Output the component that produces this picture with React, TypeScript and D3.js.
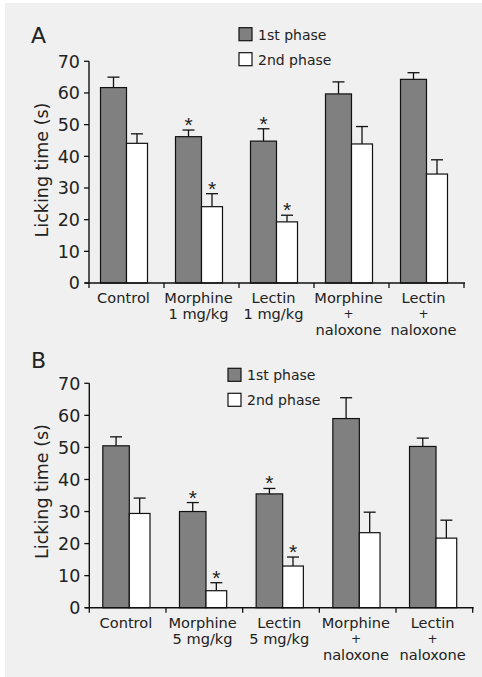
import React from "react";
import * as d3 from "d3";

const seriesNames = ["1st phase", "2nd phase"];
const yTicks = [0, 10, 20, 30, 40, 50, 60, 70];

const categoriesA = [["Control"], ["Morphine", "1 mg/kg"], ["Lectin", "1 mg/kg"], ["Morphine", "+", "naloxone"], ["Lectin", "+", "naloxone"]];
const phase1A = [61.7, 46.2, 44.8, 59.7, 64.3];
const phase1ErrA = [3.3, 2.1, 3.9, 3.8, 2.1];
const phase2A = [44.1, 24.1, 19.3, 43.9, 34.4];
const phase2ErrA = [3.0, 4.1, 2.1, 5.5, 4.5];
const sig1A = [false, true, true, false, false];
const sig2A = [false, true, true, false, false];

const categoriesB = [["Control"], ["Morphine", "5 mg/kg"], ["Lectin", "5 mg/kg"], ["Morphine", "+", "naloxone"], ["Lectin", "+", "naloxone"]];
const phase1B = [50.5, 30.0, 35.5, 59.0, 50.3];
const phase1ErrB = [2.8, 2.8, 1.7, 6.5, 2.6];
const phase2B = [29.4, 5.3, 13.0, 23.4, 21.7];
const phase2ErrB = [4.8, 2.5, 2.8, 6.4, 5.6];
const sig1B = [false, true, true, false, false];
const sig2B = [false, true, true, false, false];

const FONT = "'DejaVu Sans', Verdana, sans-serif";
const TXT = "#222";

type PanelProps = {
  letter: string;
  cats: string[][];
  p1: number[]; e1: number[]; p2: number[]; e2: number[];
  s1: boolean[]; s2: boolean[];
  x0: number; x1: number; yBottom: number; yTop: number;
  offset: number; w1: number; w2: number;
  letterY: number; legendX: number; legendY: number;
  labelY: number[]; plusY: number; ylabelY: number;
};

function Panel(p: PanelProps) {
  const x = d3.scaleBand<number>().domain(d3.range(p.cats.length)).range([p.x0, p.x1]).padding(0);
  const y = d3.scaleLinear().domain([0, 70]).range([p.yBottom, p.yTop]);
  const bounds = d3.range(p.cats.length + 1).map((i) => (i < p.cats.length ? (x(i) as number) : p.x1));
  const bars: React.ReactNode[] = [];
  p.cats.forEach((_, i) => {
    const bx = (x(i) as number) + p.offset;
    const defs = [
      { v: p.p1[i], e: p.e1[i], s: p.s1[i], fill: "#808080", xs: bx, w: p.w1 },
      { v: p.p2[i], e: p.e2[i], s: p.s2[i], fill: "#ffffff", xs: bx + p.w1, w: p.w2 },
    ];
    defs.forEach((d, j) => {
      const cx = d.xs + d.w / 2;
      const top = y(d.v + d.e);
      bars.push(
        <g key={`b${i}-${j}`}>
          <line x1={cx} x2={cx} y1={y(d.v)} y2={top} stroke="#111" strokeWidth={1.3} />
          <line x1={cx - 6} x2={cx + 6} y1={top} y2={top} stroke="#111" strokeWidth={1.3} />
          <rect x={d.xs} y={y(d.v)} width={d.w} height={y(0) - y(d.v)} fill={d.fill} stroke="#111" strokeWidth={1.2} />
          {d.s && (
            <text x={cx} y={top + 2} textAnchor="middle" fontSize={21} fontFamily="'Liberation Sans', Arial, sans-serif" fill={TXT}>*</text>
          )}
        </g>
      );
    });
  });
  const lg = seriesNames.map((n, k) => (
    <g key={n}>
      <rect x={p.legendX} y={p.legendY + k * 25} width={13} height={13} fill={k === 0 ? "#808080" : "#ffffff"} stroke="#111" strokeWidth={1.2} />
      <text x={p.legendX + 19} y={p.legendY + k * 25 + 12} fontSize={14} fontFamily={FONT} fill={TXT}>{n}</text>
    </g>
  ));
  return (
    <g>
      <text x={31} y={p.letterY} fontSize={22} fontFamily={FONT} fill={TXT}>{p.letter}</text>
      {lg}
      <text transform={`translate(48,${p.ylabelY}) rotate(-90)`} textAnchor="middle" fontSize={17.5} fontFamily={FONT} fill={TXT}>Licking time (s)</text>
      {bars}
      <line x1={p.x0} x2={p.x0} y1={y(0)} y2={y(70)} stroke="#111" strokeWidth={1.4} />
      {yTicks.map((t) => (
        <g key={t}>
          <line x1={p.x0 - 5} x2={p.x0} y1={y(t)} y2={y(t)} stroke="#111" strokeWidth={1.3} />
          <text x={p.x0 - 9} y={y(t) + 6.3} textAnchor="end" fontSize={17.5} fontFamily={FONT} fill={TXT}>{t}</text>
        </g>
      ))}
      <line x1={p.x0 - 4} x2={p.x1 + 1} y1={y(0)} y2={y(0)} stroke="#111" strokeWidth={1.5} />
      {bounds.map((b, i) => (
        <line key={i} x1={b} x2={b} y1={y(0)} y2={y(0) + 5} stroke="#111" strokeWidth={1.3} />
      ))}
      {p.cats.map((lines, i) => {
        const cx = (x(i) as number) + p.offset + (p.w1 + p.w2) / 2 - 0.5;
        return (
          <g key={`c${i}`}>
            {lines.map((l, k) => (
              <text key={k} x={cx} y={l === "+" ? p.plusY : p.labelY[k]} textAnchor="middle" fontSize={l === "+" ? 12 : 14.6} fontFamily={FONT} fill={TXT}>{l}</text>
            ))}
          </g>
        );
      })}
    </g>
  );
}

export default function App() {
  return (
    <svg width={482} height={677} style={{ position: "fixed", left: 0, top: 0 }}>
      <rect x={0} y={0} width={482} height={677} fill="#ffffff" />
      <rect x={5} y={3} width={477} height={674} fill="#f0f0f0" />
      <Panel letter="A" cats={categoriesA} p1={phase1A} e1={phase1ErrA} p2={phase2A} e2={phase2ErrA} s1={sig1A} s2={sig2A}
        x0={89} x1={464} yBottom={283} yTop={61.3} offset={11.5} w1={26} w2={21}
        letterY={43} legendX={239} legendY={27.7} labelY={[303.3, 319, 334.5]} plusY={318} ylabelY={170} />
      <Panel letter="B" cats={categoriesB} p1={phase1B} e1={phase1ErrB} p2={phase2B} e2={phase2ErrB} s1={sig1B} s2={sig2B}
        x0={89.3} x1={472.7} yBottom={607.7} yTop={383.3} offset={13.5} w1={26.5} w2={20.7}
        letterY={368} legendX={228} legendY={368.3} labelY={[628.3, 644, 660.3]} plusY={643} ylabelY={491.5} />
    </svg>
  );
}
